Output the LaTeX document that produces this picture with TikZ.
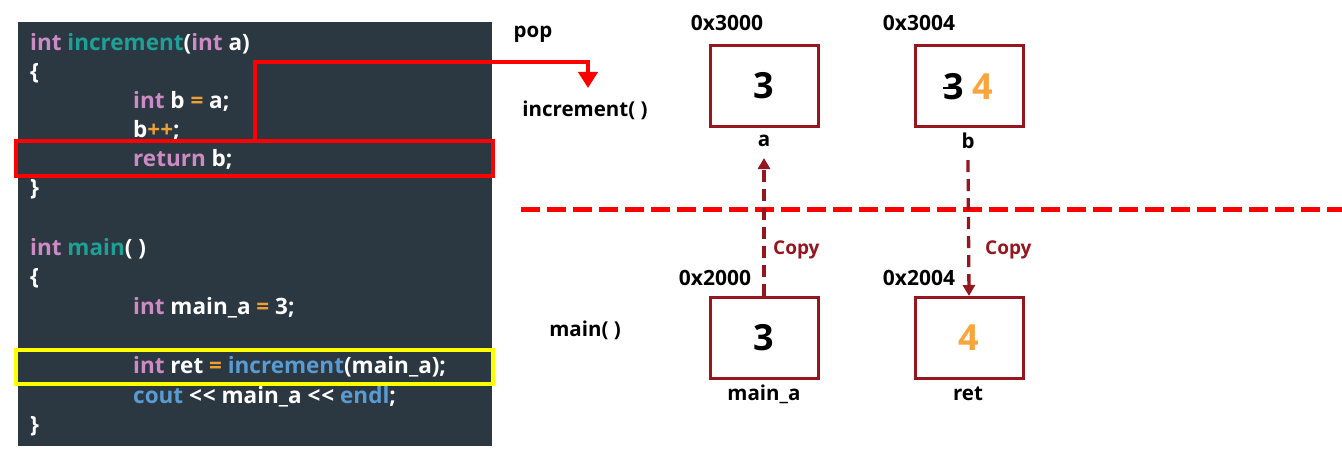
\documentclass[tikz,border=0pt]{standalone}
\usepackage{fontspec}
\setmainfont{Open Sans}
\usetikzlibrary{arrows.meta}
\definecolor{panel}{RGB}{43,56,66}
\definecolor{kw}{RGB}{206,138,196}
\definecolor{fn}{RGB}{30,160,150}
\definecolor{op}{RGB}{240,160,50}
\definecolor{bl}{RGB}{90,155,210}
\definecolor{boxc}{RGB}{150,22,32}
\definecolor{four}{RGB}{250,165,60}
\definecolor{hl}{RGB}{255,0,0}
\definecolor{yl}{RGB}{255,255,0}
\newcommand{\K}[1]{\textcolor{kw}{#1}}
\newcommand{\F}[1]{\textcolor{fn}{#1}}
\newcommand{\Op}[1]{\textcolor{op}{#1}}
\newcommand{\B}[1]{\textcolor{bl}{#1}}
\newcommand{\LL}{{<}\kern1pt{<}}
\begin{document}
\begin{tikzpicture}[x=1pt,y=-1pt,
  code/.style={anchor=base west, inner sep=0, text=white, font=\fontsize{22.5}{26}\selectfont\bfseries},
  mem/.style={draw=boxc, line width=3pt, minimum width=108pt, minimum height=81pt, inner sep=0},
  lbl/.style={inner sep=0, font=\fontsize{20.5}{24}\selectfont\bfseries},
  addr/.style={inner sep=0, font=\fontsize{21}{24}\selectfont\bfseries},
  val/.style={inner sep=0, font=\fontsize{36}{40}\selectfont\bfseries},
  copylbl/.style={inner sep=0, anchor=west, text=boxc, font=\fontsize{19}{23}\selectfont\bfseries},
  hlbox/.style={line width=4pt, minimum width=477pt, inner sep=0},
  copyarrow/.style={draw=boxc, line width=3.3pt, dash pattern=on 12pt off 7pt, -{Triangle[length=11pt,width=12pt]}}
]
\useasboundingbox (0,0) rectangle (1342,465);
% code panel
\node[fill=panel, minimum width=474pt, minimum height=424pt, inner sep=0, anchor=north west] (panel) at (18,22) {};
\node[code] (c1) at (30,51) {\K{int} \F{increment}(\K{int} a)};
\node[code] (c2) at (30,80) {\{};
\node[code] (c3) at (133,109) {\K{int} b \Op{=} a;};
\node[code] (c4) at (133,138) {b\Op{++};};
\node[code] (c5) at (133,167) {\K{return} b;};
\node[code] (c6) at (30,196) {\}};
\node[code] (c7) at (30,256) {\K{int} \F{main}( )};
\node[code] (c8) at (30,285) {\{};
\node[code] (c9) at (133,314) {\K{int} main\_a \Op{=} 3;};
\node[code] (c10) at (133,373) {\K{int} ret \Op{=} \B{increment}(main\_a);};
\node[code] (c11) at (133,403) {\B{cout} \LL{} main\_a \LL{} \B{endl};};
\node[code] (c12) at (30,432) {\}};
% highlight boxes
\node[hlbox, draw=hl, minimum height=35pt] (retline) at (254.5,158.5) {};
\node[hlbox, draw=yl, minimum height=34pt] (callline) at (254.5,367) {};
% pop arrow
\coordinate (popstart) at (255,141);
\coordinate (poptip) at (588,88);
\draw[hl, line width=4pt, -{Triangle[length=16pt,width=19pt]}] (popstart) |- (588,62) -- (poptip);
% frame labels
\node[lbl] (pop) at (533,34) {pop};
\node[lbl] (incf) at (585,110) {increment( )};
\node[lbl] (mainf) at (585,330) {main( )};
% separator
\coordinate (sepL) at (521,210);
\coordinate (sepR) at (1342,210);
\draw[hl, line width=5pt, dash pattern=on 19pt off 7pt] (sepL) -- (sepR);
% memory boxes
\node[mem] (ba) at (764,86) {};
\node[mem] (bb) at (969,86) {};
\node[mem] (bma) at (764,338) {};
\node[mem] (bret) at (969,338) {};
\node[val] (va) at (ba) {3};
\node[val] (vb3) at (954,87) {3};
\node[val, text=four] (vb4) at (983,87) {4};
\draw[line width=2pt] ([xshift=-1pt,yshift=-1pt]vb3.west) -- ([xshift=4pt,yshift=-1pt]vb3.center);
\node[val] (vma) at (bma) {3};
\node[val, text=four] (vret) at (bret) {4};
% addresses
\node[addr] (a1) at (727,23) {0x3000};
\node[addr] (a2) at (919,23) {0x3004};
\node[addr] (a3) at (715,278) {0x2000};
\node[addr] (a4) at (919,278) {0x2004};
% names
\node[lbl] (na) at (764,141) {a};
\node[lbl] (nb) at (968,141) {b};
\node[lbl] (nma) at (764,394) {main\_a};
\node[lbl] (nret) at (968,394) {ret};
% copy arrows
\draw[copyarrow] (bma.north) -- ([yshift=-11pt]na.south);
\draw[copyarrow] ([yshift=-11pt]nb.south) -- (bret.north);
\node[copylbl] (cp1) at (773,250) {Copy};
\node[copylbl] (cp2) at (985,250) {Copy};
\end{tikzpicture}
\end{document}
